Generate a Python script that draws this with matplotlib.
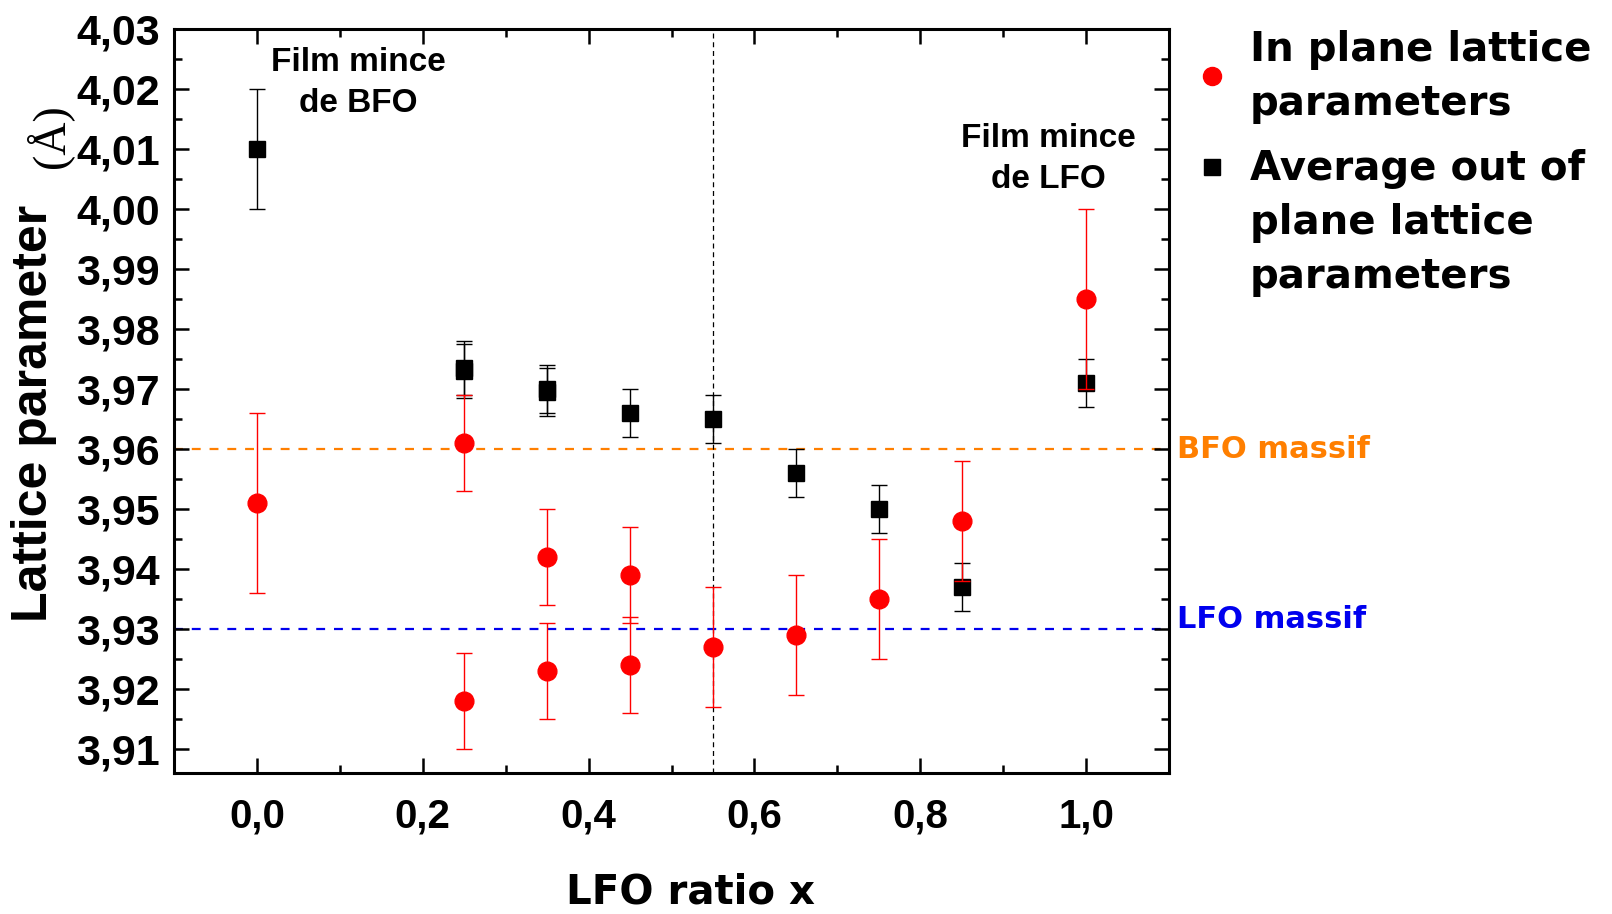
import matplotlib
matplotlib.use("Agg")
import matplotlib.pyplot as plt
from matplotlib.lines import Line2D
from matplotlib.ticker import MultipleLocator, FuncFormatter

# ---------------- data ----------------
x_in = [0.0, 0.25, 0.25, 0.35, 0.35, 0.45, 0.45, 0.55, 0.65, 0.75, 0.85, 1.0]
a_in = [3.951, 3.961, 3.918, 3.942, 3.923, 3.939, 3.924, 3.927, 3.929, 3.935, 3.948, 3.985]
e_in = [0.015, 0.008, 0.008, 0.008, 0.008, 0.008, 0.008, 0.010, 0.010, 0.010, 0.010, 0.015]

x_out = [0.0, 0.25, 0.25, 0.35, 0.35, 0.45, 0.55, 0.65, 0.75, 0.85, 1.0]
a_out = [4.010, 3.9735, 3.9730, 3.9700, 3.9695, 3.966, 3.965, 3.956, 3.950, 3.937, 3.971]
e_out = [0.010, 0.0045, 0.0045, 0.0040, 0.0040, 0.004, 0.004, 0.004, 0.004, 0.004, 0.004]

bfo_bulk = 3.96
lfo_bulk = 3.93
x_boundary = 0.55

legend_labels = ["In plane lattice\nparameters", "Average out of\nplane lattice\nparameters"]

W, H = 1612, 914
fig = plt.figure(figsize=(W / 100, H / 100), dpi=100)
ax = fig.add_axes([174 / W, 1 - 773 / H, (1169 - 174) / W, (773 - 29) / H])

tick_font = ['Liberation Sans Narrow', 'Liberation Sans', 'DejaVu Sans']
arial = ['Liberation Sans', 'DejaVu Sans']
gothic = ['DejaVu Sans']

ax.axhline(bfo_bulk, color='#FF7F00', ls=(0, (4, 4)), lw=1.6, zorder=1)
ax.axhline(lfo_bulk, color='#0000EE', ls=(0, (4, 4)), lw=1.6, zorder=1)
ax.axvline(x_boundary, color='black', ls=(0, (4, 3)), lw=0.9, zorder=1)

ax.errorbar(x_out, a_out, yerr=e_out, fmt='s', color='black', ms=11.5,
            ecolor='black', elinewidth=1.0, capsize=6, capthick=1.0, zorder=3)
ax.errorbar(x_in, a_in, yerr=e_in, fmt='o', color='#FF0000', ms=13.5,
            ecolor='#FF0000', elinewidth=1.0, capsize=6, capthick=1.0, zorder=4)

ax.set_xlim(-0.1, 1.1)
ax.set_ylim(3.906, 4.03)
ax.xaxis.set_major_locator(MultipleLocator(0.2))
ax.xaxis.set_minor_locator(MultipleLocator(0.1))
ax.yaxis.set_major_locator(MultipleLocator(0.01))
ax.yaxis.set_minor_locator(MultipleLocator(0.005))
ax.xaxis.set_major_formatter(FuncFormatter(lambda v, p: f"{v:.1f}".replace('.', ',')))
ax.yaxis.set_major_formatter(FuncFormatter(lambda v, p: f"{v:.2f}".replace('.', ',')))
ax.tick_params(which='both', direction='in', top=True, right=True, width=1.8)
ax.tick_params(which='major', length=11)
ax.tick_params(which='minor', length=6)
ax.tick_params(axis='x', which='major', pad=18)
ax.tick_params(axis='y', which='major', pad=10)
for s in ax.spines.values():
    s.set_linewidth(2.2)
for lab in ax.get_xticklabels():
    lab.set_fontfamily(tick_font); lab.set_fontweight('bold'); lab.set_fontsize(29)
for lab in ax.get_yticklabels():
    lab.set_fontfamily(arial); lab.set_fontweight('bold'); lab.set_fontsize(31)

# axis labels
fig.text(691 / W, 1 - 892 / H, "LFO ratio x", ha='center', va='center',
         fontsize=29, fontweight='bold', family=gothic)
fig.text(34 / W, 1 - 413 / H, "Lattice parameter", ha='center', va='center', rotation=90,
         fontsize=36, fontweight='bold', family=arial)
fig.text(49 / W, 1 - 136 / H, "(Å)", ha='center', va='center', rotation=90,
         fontsize=33, family=['Liberation Serif', 'DejaVu Serif'])

# annotations
ax.text(0.122, 4.021, "Film mince\nde BFO", ha='center', va='center', fontsize=24,
        fontweight='bold', family=arial, linespacing=1.4)
ax.text(0.955, 4.0083, "Film mince\nde LFO", ha='center', va='center', fontsize=24,
        fontweight='bold', family=arial, linespacing=1.4)

fig.text(1177 / W, 1 - 450 / H, "BFO massif", ha='left', va='center', color='#FF7F00',
         fontsize=22, fontweight='bold', family=gothic)
fig.text(1177 / W, 1 - 619 / H, "LFO massif", ha='left', va='center', color='#0000EE',
         fontsize=22, fontweight='bold', family=gothic)

# legend (manual)
fig.add_artist(Line2D([1212 / W], [1 - 76 / H], marker='o', color='#FF0000', ms=13, ls='none'))
fig.add_artist(Line2D([1212 / W], [1 - 167 / H], marker='s', color='black', ms=11, ls='none'))
fig.text(1250 / W, 1 - 30 / H, legend_labels[0], ha='left', va='top', fontsize=29,
         fontweight='bold', family=gothic, linespacing=1.45)
fig.text(1250 / W, 1 - 149 / H, legend_labels[1], ha='left', va='top', fontsize=29,
         fontweight='bold', family=gothic, linespacing=1.45)

fig.savefig("out.png", dpi=100)
